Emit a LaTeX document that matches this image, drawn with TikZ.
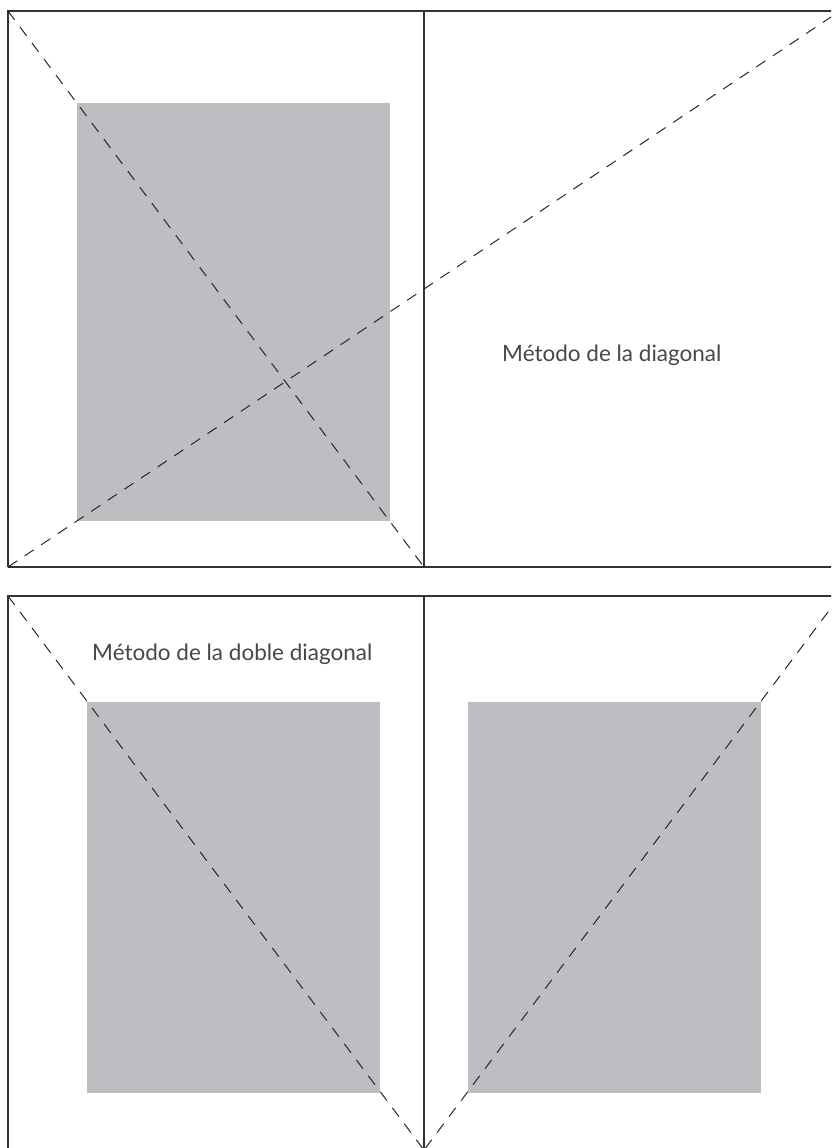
\documentclass[tikz,border=0pt]{standalone}
\usepackage{fontspec}
\setmainfont{Lato}
\begin{document}
\begin{tikzpicture}[x=1pt,y=-1pt,
  frame/.style={draw=black!80, line width=1.6pt},
  guide/.style={draw=black!85, line width=1pt, dash pattern=on 11pt off 9pt},
  page/.style={fill=graybox, draw=none},
  caption/.style={font=\fontsize{22.5}{27}\selectfont, text=black!72, inner sep=0pt, anchor=base west}]
\definecolor{graybox}{RGB}{189,190,194}
\useasboundingbox (0,0) rectangle (831,1148);
\clip (0,0) rectangle (831,1148);
% top panel coordinates
\coordinate (tTL) at (8,11);
\coordinate (tTR) at (840,11);
\coordinate (tBL) at (8,567);
\coordinate (tBR) at (840,567);
\coordinate (tMT) at (424,11);
\coordinate (tMB) at (424,567);
% bottom panel coordinates
\coordinate (bTL) at (8,596);
\coordinate (bTR) at (840,596);
\coordinate (bBL) at (8,1160);
\coordinate (bMT) at (424,596);
\coordinate (bMB) at (424,1160);
\coordinate (bML) at (424,1150);
% gray blocks
\fill[page] (77,103) rectangle (390,521);
\fill[page] (87,702) rectangle (380,1093);
\fill[page] (468,702) rectangle (761,1093);
% frames
\draw[frame] (tBL) -- (tTL) -- (tTR);
\draw[frame] (tBL) -- (tBR);
\draw[frame] (tMT) -- (tMB);
\draw[frame] (bBL) -- (bTL) -- (bTR);
\draw[frame] (bMT) -- (bMB);
% diagonals
\draw[guide] (tTL) -- (tMB);
\draw[guide] (tBL) -- (tTR);
\draw[guide] (bTL) -- (bML);
\draw[guide] (bTR) -- (bML);
% captions
\node[caption] (c1) at (502,361) {Método de la diagonal};
\node[caption] (c2) at (92,660) {Método de la doble diagonal};
\end{tikzpicture}
\end{document}
